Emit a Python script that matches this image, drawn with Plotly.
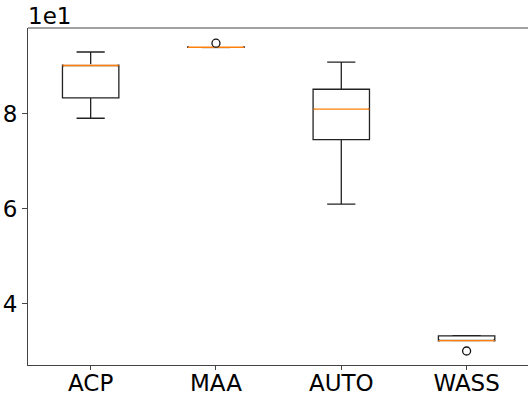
import plotly.graph_objects as go

categories = ["ACP", "MAA", "AUTO", "WASS"]
positions = [1, 2, 3, 4]
lower_whisker = [79.1, 93.95, 61.0, 32.2]
q1 = [83.4, 94.0, 74.6, 32.25]
median = [90.2, 94.05, 81.0, 32.3]
q3 = [90.3, 94.1, 85.2, 33.3]
upper_whisker = [93.05, 94.15, 90.9, 33.35]
outlier_x = [2, 4]
outlier_y = [94.9, 30.1]

ytick_vals = [40, 60, 80]
ytick_text = ["4", "6", "8"]

box_width = 0.45
font = "DejaVu Sans"
fs = 23

fig = go.Figure()
fig.add_trace(go.Box(
    x=positions, q1=q1, median=median, q3=q3,
    lowerfence=lower_whisker, upperfence=upper_whisker,
    width=box_width, whiskerwidth=0.5,
    line=dict(color="#222222", width=1.3), fillcolor="rgba(255,255,255,0)",
    boxpoints=False, showlegend=False, hoverinfo="skip",
))
for xp, m in zip(positions, median):
    fig.add_trace(go.Scatter(
        x=[xp - box_width / 2 + 0.01, xp + box_width / 2 - 0.01], y=[m, m], mode="lines",
        line=dict(color="white", width=2.4), showlegend=False, hoverinfo="skip",
    ))
    fig.add_trace(go.Scatter(
        x=[xp - box_width / 2, xp + box_width / 2], y=[m, m], mode="lines",
        line=dict(color="#ff7f0e", width=1.3), showlegend=False, hoverinfo="skip",
    ))
fig.add_trace(go.Scatter(
    x=outlier_x, y=outlier_y, mode="markers",
    marker=dict(symbol="circle", size=8, color="white", line=dict(width=1.3, color="#111111")),
    showlegend=False, hoverinfo="skip",
))

fig.update_layout(
    width=528, height=395,
    margin=dict(l=28, r=0, t=28, b=30),
    paper_bgcolor="white", plot_bgcolor="white",
    font=dict(family=font, size=fs, color="black"),
    xaxis=dict(range=[0.5, 4.49], tickvals=positions, ticktext=categories,
               showgrid=False, zeroline=False, showline=True, linecolor="#444444",
               linewidth=1, ticks="outside", ticklen=4, tickcolor="#444444",
               mirror=False, tickfont=dict(size=fs), automargin=False,
               ticklabelstandoff=-7),
    yaxis=dict(range=[27.15, 98.1], tickvals=ytick_vals, ticktext=ytick_text,
               showgrid=False, zeroline=False, showline=True, linecolor="#444444",
               linewidth=1, ticks="outside", ticklen=5, tickcolor="#444444",
               tickfont=dict(size=fs), automargin=False),
    annotations=[dict(text="1e1", xref="paper", yref="paper", x=0, y=1,
                      xanchor="left", yanchor="bottom", showarrow=False,
                      font=dict(family=font, size=fs), yshift=-3, xshift=-2)],
)
fig.add_shape(type="line", xref="paper", yref="paper", x0=0, x1=1, y0=1, y1=1,
              line=dict(color="#444444", width=1))

fig.write_html("out.html")
